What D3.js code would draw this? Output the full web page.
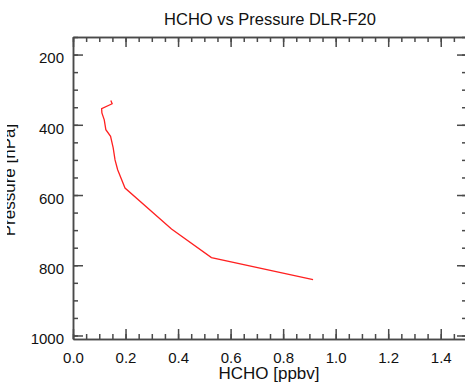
<!DOCTYPE html>
<html>
<head>
<meta charset="utf-8">
<script src="https://cdn.jsdelivr.net/npm/d3@7"></script>
<style>
  body { margin: 0; background: #fff; }
  svg { display: block; font-family: "Liberation Sans", Arial, Helvetica, sans-serif; }
  .axis path, .axis line { stroke: #4a4a4a; stroke-width: 1.5; }
  .axis text { fill: #111; font-size: 15px; }
</style>
</head>
<body>
<div class="chart"></div>
<script>
// HCHO profile (ppbv, hPa)
var hcho = [0.144, 0.149, 0.109, 0.110, 0.119, 0.125, 0.143, 0.153, 0.160, 0.170, 0.198, 0.375, 0.527, 0.914];
var pressure = [331, 340, 354, 366, 386, 414, 433, 466, 500, 528, 580, 697, 778, 841];

var xTicks = [0.0, 0.2, 0.4, 0.6, 0.8, 1.0, 1.2, 1.4];
var yTicks = [200, 400, 600, 800, 1000];

var W = 465, H = 386;
var margin = { top: 37, right: -2, bottom: 47, left: 73 };
var width = W - margin.left - margin.right;
var height = H - margin.top - margin.bottom;

var svg = d3.select('.chart')
    .append('svg')
    .attr('width', W)
    .attr('height', H);

var defs = svg.append('defs');
defs.append('clipPath')
    .attr('id', 'ylab-clip')
    .append('rect')
    .attr('x', 7).attr('y', 0).attr('width', W).attr('height', H);

var g = svg.append('g')
    .attr('transform', `translate(${margin.left}, ${margin.top})`);

var xScale = d3.scaleLinear().domain([0, 1.5]).range([0, width]);
var yScale = d3.scaleLinear().domain([150, 1010]).range([0, height]);

var xMinor = d3.range(0, 1.5001, 0.05).map(d => +d.toFixed(2));
var yMinor = d3.range(150, 1001, 50);

// bottom axis
g.append('g')
    .attr('class', 'axis')
    .attr('transform', `translate(0, ${height})`)
    .call(d3.axisBottom(xScale).tickValues(xMinor).tickSize(-5).tickSizeOuter(0).tickFormat(''));
g.append('g')
    .attr('class', 'axis')
    .attr('transform', `translate(0, ${height})`)
    .call(d3.axisBottom(xScale).tickValues(xTicks).tickSize(-10).tickSizeOuter(0).tickPadding(13)
        .tickFormat(d3.format('.1f')));

// top axis
g.append('g')
    .attr('class', 'axis')
    .call(d3.axisTop(xScale).tickValues(xMinor).tickSize(-5).tickSizeOuter(0).tickFormat(''));
g.append('g')
    .attr('class', 'axis')
    .call(d3.axisTop(xScale).tickValues(xTicks).tickSize(-10).tickSizeOuter(0).tickFormat(''));

// left axis
g.append('g')
    .attr('class', 'axis')
    .call(d3.axisLeft(yScale).tickValues(yMinor).tickSize(-5).tickSizeOuter(0).tickFormat(''));
var yAx = g.append('g')
    .attr('class', 'axis')
    .call(d3.axisLeft(yScale).tickValues(yTicks).tickSize(-10).tickSizeOuter(0).tickPadding(9)
        .tickFormat(d3.format('d')));
yAx.selectAll('text').attr('dy', '0.55em');

// right axis
g.append('g')
    .attr('class', 'axis')
    .attr('transform', `translate(${width}, 0)`)
    .call(d3.axisRight(yScale).tickValues(yMinor).tickSize(-5).tickSizeOuter(0).tickFormat(''));
g.append('g')
    .attr('class', 'axis')
    .attr('transform', `translate(${width}, 0)`)
    .call(d3.axisRight(yScale).tickValues(yTicks).tickSize(-10).tickSizeOuter(0).tickFormat(''));

// profile line
var data = hcho.map((v, i) => ({ v: v, p: pressure[i] }));
var line = d3.line()
    .x(d => xScale(d.v))
    .y(d => yScale(d.p));

g.append('path')
    .attr('d', line(data))
    .style('stroke', '#ff2020')
    .style('stroke-width', 1.3)
    .style('fill', 'none');

// titles
svg.append('text')
    .attr('x', 270).attr('y', 25)
    .attr('text-anchor', 'middle')
    .style('font-size', '16.5px')
    .style('fill', '#111')
    .text('HCHO vs Pressure DLR-F20');

svg.append('text')
    .attr('x', 269).attr('y', 379)
    .attr('text-anchor', 'middle')
    .style('font-size', '17px')
    .style('fill', '#111')
    .text('HCHO [ppbv]');

svg.append('g')
    .attr('clip-path', 'url(#ylab-clip)')
    .append('text')
    .attr('transform', 'translate(15, 180) rotate(-90)')
    .attr('text-anchor', 'middle')
    .style('font-size', '17px')
    .style('fill', '#111')
    .text('Pressure [hPa]');
</script>
</body>
</html>
